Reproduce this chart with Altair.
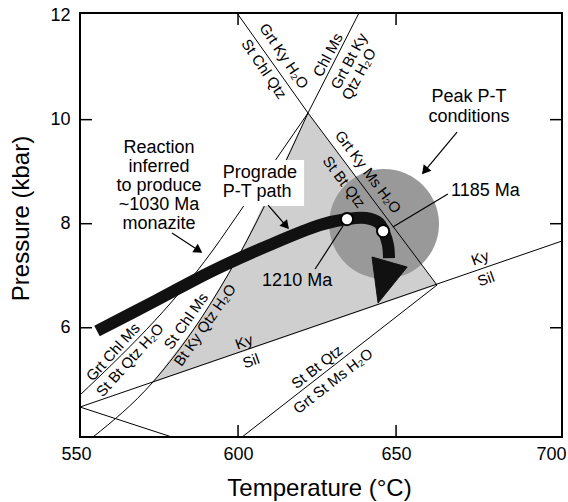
import altair as alt
import pandas as pd
import numpy as np

# ---------------- axes / frame ----------------
T_MIN, T_MAX = 550, 702.5
P_MIN, P_MAX = 3.9, 12.05
W, H = 482, 424
FONT = "Liberation Sans"

x_ticks = [550, 600, 650, 700]
y_ticks = [6, 8, 10, 12]
inner_x_ticks = [600, 650]
inner_y_ticks = [6, 8, 10]

# ---------------- reaction lines (straight segments) ----------------
seg_id = ["L1a", "L1a", "L1b", "L1b", "L2", "L2", "KySil", "KySil",
          "Short", "Short", "StBt", "StBt"]
seg_T = [599.67, 622.14, 622.14, 662.95, 622.14, 638.27, 550.0, 702.5,
         550.0, 579.11, 601.26, 662.95]
seg_P = [12.05, 10.128, 10.128, 6.821, 10.128, 12.05, 4.476, 7.667,
         4.476, 3.899, 3.899, 6.821]

# curved reactions
curve_id = ["A", "A", "A", "A", "B", "B", "B", "B", "B"]
curve_T = [550.0, 592.08, 601.57, 622.14, 554.11, 572.78, 587.97, 599.99, 622.14]
curve_P = [4.707, 7.494, 8.321, 10.128, 3.899, 4.937, 6.149, 7.360, 10.128]

# shaded field (polygon)
field_T = [622.14, 662.95, 572.78, 587.97, 599.99, 622.14]
field_P = [10.128, 6.821, 4.937, 6.149, 7.360, 10.128]

# peak P-T conditions disc
peak_T = [646.2]
peak_P = [7.994]

# prograde P-T path
path_T = [555.38, 573.73, 591.13, 608.53, 625.93, 634.48, 640.49, 644.60, 646.18, 647.45, 647.77]
path_P = [5.937, 6.514, 7.071, 7.552, 7.975, 8.090, 8.109, 8.013, 7.840, 7.590, 7.340]
head_T = [642.4, 653.5, 644.3, 642.4]
head_P = [7.360, 7.167, 6.475, 7.360]

# dated points (1210 Ma, 1185 Ma)
age_T = [634.48, 645.9]
age_P = [8.090, 7.859]

# reaction labels
rx_text = ["Grt Ky H₂O", "St Chl Qtz", "Chl Ms", "Grt Bt Ky", "Qtz H₂O",
           "Grt Ky Ms H₂O", "St Bt Qtz", "Grt Chl Ms", "St Bt Qtz H₂O",
           "St Chl Ms", "Bt Ky Qtz H₂O", "Ky", "Sil", "Ky", "Sil",
           "St Bt Qtz", "Grt St Ms H₂O"]
rx_T = [614.54, 608.22, 628.46, 635.11, 638.27, 641.12, 633.53, 560.44, 565.82,
        583.54, 589.55, 601.89, 604.10, 676.56, 678.45, 624.98, 630.05]
rx_P = [11.223, 10.974, 11.243, 11.127, 10.877, 8.994, 8.801, 5.533, 5.380,
        6.129, 6.052, 5.726, 5.361, 7.340, 6.937, 5.245, 4.976]
rx_angle = [56, 56, 298, 298, 298, 53, 53, 312, 312, 305, 305, 340, 340, 340, 340, 322, 322]

# annotations
note_text = ["Reaction", "inferred", "to produce", "~1030 Ma", "monazite",
             "Prograde", "P-T path", "Peak P-T", "conditions", "1185 Ma", "1210 Ma"]
note_T = [575.0, 575.0, 575.0, 575.0, 575.0, 595.2, 595.2, 673.1, 673.1, 667.4, 618.7]
note_P = [9.455, 9.090, 8.724, 8.359, 7.994, 8.984, 8.609, 10.435, 10.051, 8.628, 6.898]
note_align = ["center"] * 5 + ["left", "left", "center", "center", "left", "center"]

# label box behind "Prograde P-T path"
box_T = [594.3, 620.9]
box_P = [8.340, 9.224]

# annotation arrows / leaders
arr_T0 = [579.1, 609.5, 669.3, 633.2, 649.0]
arr_P0 = [7.821, 8.359, 9.762, 7.956, 7.936]
arr_T1 = [588.3, 615.8, 658.5, 624.4, 666.4]
arr_P1 = [7.456, 7.917, 8.974, 7.129, 8.571]
arr_head = [True, True, True, False, False]

# ---------------- build tables ----------------
seg_df = pd.DataFrame({"id": seg_id, "T": seg_T, "P": seg_P, "i": range(len(seg_T))})
curve_df = pd.DataFrame({"id": curve_id, "T": curve_T, "P": curve_P, "i": range(len(curve_T))})
field_df = pd.DataFrame({"T": field_T, "P": field_P, "i": range(len(field_T))})
peak_df = pd.DataFrame({"T": peak_T, "P": peak_P})
path_df = pd.DataFrame({"T": path_T, "P": path_P, "i": range(len(path_T))})
head_df = pd.DataFrame({"T": head_T, "P": head_P, "i": range(len(head_T))})
age_df = pd.DataFrame({"T": age_T, "P": age_P})
rx_df = pd.DataFrame({"text": rx_text, "T": rx_T, "P": rx_P, "angle": rx_angle})
note_df = pd.DataFrame({"text": note_text, "T": note_T, "P": note_P, "align": note_align})
box_df = pd.DataFrame({"T": [box_T[0]], "T1": [box_T[1]], "P": [box_P[0]], "P1": [box_P[1]]})

arr_rows = []
for k in range(len(arr_T0)):
    arr_rows.append({"id": k, "T": arr_T0[k], "P": arr_P0[k], "i": 0})
    arr_rows.append({"id": k, "T": arr_T1[k], "P": arr_P1[k], "i": 1})
arr_df = pd.DataFrame(arr_rows)

kx = W / (T_MAX - T_MIN)
ky = H / (P_MAX - P_MIN)
HEAD_SIZE = 100
r = np.sqrt(HEAD_SIZE) / 2
h = np.sqrt(3) * r / 2
heads = []
for k in range(len(arr_T0)):
    if not arr_head[k]:
        continue
    dx = (arr_T1[k] - arr_T0[k]) * kx
    dy = -(arr_P1[k] - arr_P0[k]) * ky
    L = np.hypot(dx, dy)
    ux, uy = dx / L, dy / L
    ang = float(np.degrees(np.arctan2(ux, -uy)) % 360)
    heads.append({"T": arr_T1[k] - ux * h / kx, "P": arr_P1[k] + uy * h / ky, "angle": ang})
heads_df = pd.DataFrame(heads)

xt_df = pd.DataFrame({"T": inner_x_ticks})
yt_df = pd.DataFrame({"P": inner_y_ticks})

# ---------------- encodings ----------------
xs = alt.Scale(domain=[T_MIN, T_MAX], nice=False, zero=False)
ys = alt.Scale(domain=[P_MIN, P_MAX], nice=False, zero=False)
x_axis = alt.Axis(values=x_ticks, format="d", labelPadding=8, labelFlush=False,
                  labelOffset={"expr": "datum.value == 700 ? -3 : (datum.value == 550 ? -4 : 0)"},
                  titleX=239, titleY=58, titleBaseline="alphabetic",
                  titleAlign="center")
y_axis = alt.Axis(values=y_ticks, format="d", labelPadding=10, labelFlush=False,
                  titleX=-59, titleY=205, titleAngle=270,
                  titleAlign="center", titleBaseline="middle")
X = alt.X("T:Q", scale=xs, axis=x_axis, title="Temperature (°C)")
Y = alt.Y("P:Q", scale=ys, axis=y_axis, title="Pressure (kbar)")

field = alt.Chart(field_df).mark_line(fill="#cfcfcf", strokeWidth=0).encode(
    x=X, y=Y, order="i:Q")

peak = alt.Chart(peak_df).mark_circle(size=12076, color="#999999", opacity=1).encode(
    x=X, y=Y)

segs = alt.Chart(seg_df).mark_line(color="black", strokeWidth=1).encode(
    x=X, y=Y, detail="id:N", order="i:Q")

curves = alt.Chart(curve_df).mark_line(color="black", strokeWidth=1, interpolate="monotone").encode(
    x=X, y=Y, detail="id:N", order="i:Q")

box = alt.Chart(box_df).mark_rect(color="white").encode(
    x=X, x2="T1:Q", y=Y, y2="P1:Q")

arrows = alt.Chart(arr_df).mark_line(color="black", strokeWidth=1.2).encode(
    x=X, y=Y, detail="id:N", order="i:Q")

arrow_heads = alt.Chart(heads_df).mark_point(
    shape="triangle", filled=True, color="black", size=HEAD_SIZE, opacity=1).encode(
    x=X, y=Y, angle=alt.Angle("angle:Q", scale=None))

path = alt.Chart(path_df).mark_line(
    color="#111111", strokeWidth=12, strokeCap="butt", strokeJoin="round",
    interpolate="catmull-rom").encode(x=X, y=Y, order="i:Q")

path_head = alt.Chart(head_df).mark_line(fill="#111111", color="#111111", strokeWidth=1).encode(
    x=X, y=Y, order="i:Q")

ages = alt.Chart(age_df).mark_point(
    shape="circle", filled=True, fill="white", stroke="black", strokeWidth=2,
    size=150, opacity=1).encode(x=X, y=Y)

rx_labels = alt.Chart(rx_df).mark_text(
    font=FONT, fontSize=15, color="black", align="center", baseline="middle").encode(
    x=X, y=Y, text="text:N", angle=alt.Angle("angle:Q", scale=None))

notes_c = alt.Chart(note_df[note_df["align"] == "center"]).mark_text(
    font=FONT, fontSize=18, color="black", align="center", baseline="middle").encode(
    x=X, y=Y, text="text:N")
notes_l = alt.Chart(note_df[note_df["align"] == "left"]).mark_text(
    font=FONT, fontSize=18, color="black", align="left", baseline="middle").encode(
    x=X, y=Y, text="text:N")

tick_top = alt.Chart(xt_df).mark_rule(color="black", strokeWidth=1.5).encode(
    x=X, y=alt.value(0), y2=alt.value(12))
tick_bot = alt.Chart(xt_df).mark_rule(color="black", strokeWidth=1.5).encode(
    x=X, y=alt.value(H), y2=alt.value(H - 12))
tick_left = alt.Chart(yt_df).mark_rule(color="black", strokeWidth=1.5).encode(
    y=Y, x=alt.value(0), x2=alt.value(12))
tick_right = alt.Chart(yt_df).mark_rule(color="black", strokeWidth=1.5).encode(
    y=Y, x=alt.value(W), x2=alt.value(W - 12))

chart = alt.layer(
    field, peak, segs, curves, box, arrows, arrow_heads, path, path_head, ages,
    rx_labels, notes_c, notes_l, tick_top, tick_bot, tick_left, tick_right
).properties(
    width=W, height=H,
    padding={"left": 80, "top": 13, "right": 6, "bottom": 65},
    autosize=alt.AutoSizeParams(type="none"),
    background="white",
).configure_view(
    stroke="black", strokeWidth=2
).configure_axis(
    domain=False, grid=False, ticks=False, tickSize=0,
    labelFont=FONT, labelFontSize=18, labelColor="black",
    titleFont=FONT, titleFontSize=24, titleFontWeight="normal", titleColor="black",
)

chart.save("out.html", embed_options={"renderer": "svg", "actions": False})
